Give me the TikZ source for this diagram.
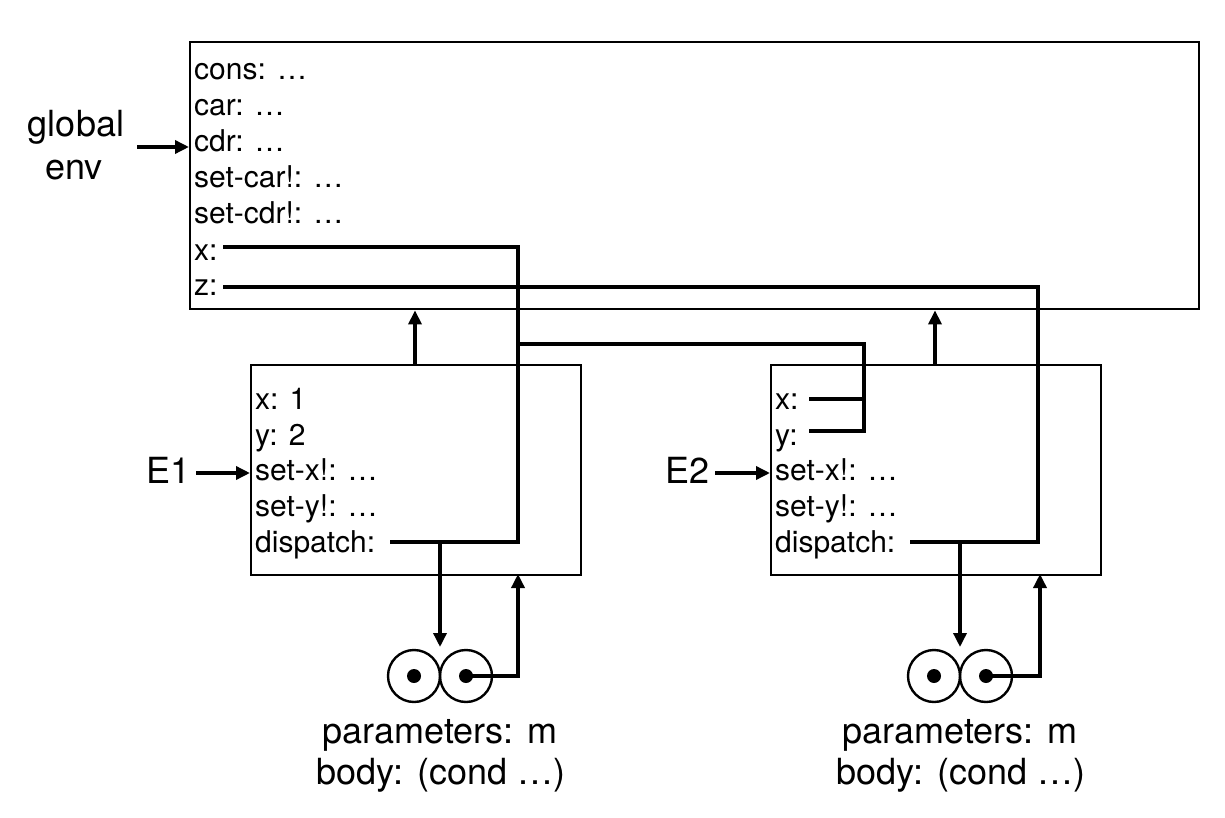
\documentclass[tikz,border=0pt]{standalone}
\usepackage{fontspec}
\setmainfont{TeX Gyre Heros}
\usetikzlibrary{arrows.meta}
\begin{document}
\begin{tikzpicture}[x=1pt,y=-1pt,
  box/.style={draw, line width=2.4pt, inner sep=0pt, anchor=north west},
  lbl/.style={anchor=base west, inner sep=0pt, font=\fontsize{30}{36}\selectfont},
  big/.style={anchor=base, inner sep=0pt, font=\fontsize{36}{43}\selectfont},
  wire/.style={line width=3.4pt},
  arr/.style={wire, -{Triangle[length=14pt,width=13pt]}},
  cell/.style={circle, draw, line width=2.4pt, minimum size=52pt, inner sep=0pt},
  dotn/.style={circle, fill, minimum size=14pt, inner sep=0pt}]
\useasboundingbox (0,0) rectangle (1225,818);

% frames
\node[box, minimum width=1009pt, minimum height=267pt] (G) at (189,41) {};
\node[box, minimum width=330pt, minimum height=210pt] (E1) at (250,364) {};
\node[box, minimum width=330pt, minimum height=210pt] (E2) at (770,364) {};

% global bindings
\node[lbl] (gcons) at (194,80) {cons: …};
\node[lbl] (gcar) at (194,116) {car: …};
\node[lbl] (gcdr) at (194,152) {cdr: …};
\node[lbl] (gsetcar) at (194,188) {set-car!: …};
\node[lbl] (gsetcdr) at (194,224) {set-cdr!: …};
\node[lbl] (gx) at (194,260) {x:};
\node[lbl] (gz) at (194,295) {z:};

% E1 bindings
\node[lbl] (ax) at (255,409) {x: 1};
\node[lbl] (ay) at (255,445) {y: 2};
\node[lbl] (asx) at (255,480) {set-x!: …};
\node[lbl] (asy) at (255,516) {set-y!: …};
\node[lbl] (adis) at (255,552) {dispatch:};

% E2 bindings
\node[lbl] (bx) at (775,409) {x:};
\node[lbl] (by) at (775,445) {y:};
\node[lbl] (bsx) at (775,480) {set-x!: …};
\node[lbl] (bsy) at (775,516) {set-y!: …};
\node[lbl] (bdis) at (775,552) {dispatch:};

% outside labels
\node[big] (genv1) at (76,137) {global};
\node[big] (genv2) at (74,180) {env};
\node[big, anchor=base west] (l1) at (146,483) {E1};
\node[big, anchor=base west] (l2) at (665,483) {E2};

% procedure objects
\node[cell] (p1a) at (414,676) {};
\node[cell] (p1b) at (466,676) {};
\node[dotn] (d1a) at (p1a.center) {};
\node[dotn] (d1b) at (p1b.center) {};
\node[cell] (p2a) at (934,676) {};
\node[cell] (p2b) at (986,676) {};
\node[dotn] (d2a) at (p2a.center) {};
\node[dotn] (d2b) at (p2b.center) {};

\node[big] (b1a) at (440,743) {parameters: m};
\node[big] (b1b) at (441,784) {body: (cond …)};
\node[big] (b2a) at (960,743) {parameters: m};
\node[big] (b2b) at (961,784) {body: (cond …)};

% coordinates
\coordinate (ga) at (137,147);
\coordinate (e1a) at (196,473);
\coordinate (e2a) at (715,473);
\coordinate (u1) at (415,364);
\coordinate (u2) at (935,364);
\coordinate (gxs) at (223,247);
\coordinate (gxc) at (518,247);
\coordinate (gzs) at (223,287);
\coordinate (gzc) at (1038,287);
\coordinate (ad1) at (390,542);
\coordinate (ad2) at (518,542);
\coordinate (bd1) at (910,542);
\coordinate (bd2) at (1038,542);
\coordinate (dn1) at (440,542);
\coordinate (dt1) at (440,647);
\coordinate (dn2) at (960,542);
\coordinate (dt2) at (960,647);
\coordinate (r1) at (518,574);
\coordinate (r2) at (1040,574);
\coordinate (bxs) at (809,399);
\coordinate (bxe) at (864,399);
\coordinate (bys) at (809,431);
\coordinate (j2) at (864,344);
\coordinate (j1) at (518,344);

% pointers into frames
\draw[arr] (ga) -- (ga -| G.west);
\draw[arr] (e1a) -- (e1a -| E1.west);
\draw[arr] (e2a) -- (e2a -| E2.west);
\draw[arr] (u1) -- (u1 |- G.south);
\draw[arr] (u2) -- (u2 |- G.south);

% bindings to procedures
\draw[wire] (gxs) -- (gxc) -- (ad2) -- (ad1);
\draw[wire] (gzs) -- (gzc) -- (bd2) -- (bd1);
\draw[wire] (bxs) -- (bxe);
\draw[wire] (bys) -| (j2) -- (j1);

\draw[arr] (dn1) -- (dt1);
\draw[arr] (dn2) -- (dt2);
\draw[arr] (d1b.center) -| (r1);
\draw[arr] (d2b.center) -| (r2);
\end{tikzpicture}
\end{document}
